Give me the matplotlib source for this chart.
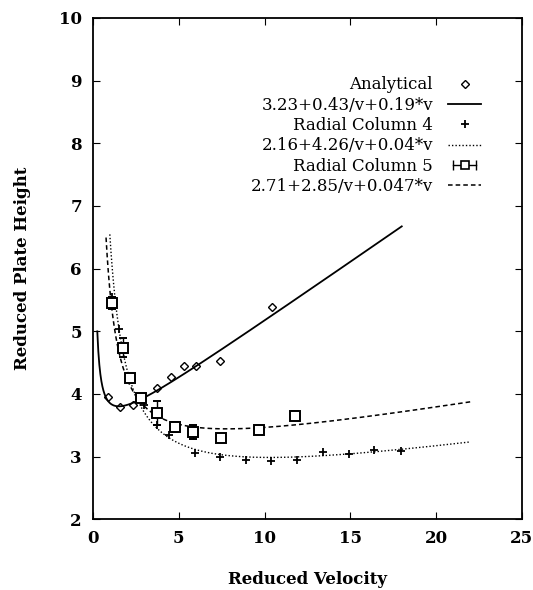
import numpy as np
import matplotlib
matplotlib.use("Agg")
import matplotlib.pyplot as plt
from matplotlib.lines import Line2D
from matplotlib.legend_handler import HandlerLine2D, HandlerTuple

# Analytical points (diamonds)
ana_v = [0.85, 1.55, 2.31, 2.77, 3.76, 4.55, 5.31, 6.0, 7.42, 10.42]
ana_h = [3.95, 3.79, 3.83, 3.93, 4.10, 4.27, 4.44, 4.44, 4.52, 5.39]

# Radial Column 4 (plus)
rc4_v = [1.1, 1.5, 1.73, 2.25, 3.0, 3.74, 4.42, 5.97, 7.42, 8.93, 10.39, 11.9, 13.4, 14.9, 16.4, 17.95]
rc4_h = [5.55, 5.04, 4.73, 4.22, 3.83, 3.51, 3.35, 3.06, 3.0, 2.94, 2.93, 2.94, 3.08, 3.04, 3.1, 3.09]

# Radial Column 5 (squares with error bars)
rc5_v = [1.12, 1.73, 2.17, 2.77, 3.74, 4.77, 5.85, 7.48, 9.67, 11.8]
rc5_h = [5.45, 4.74, 4.25, 3.93, 3.70, 3.47, 3.39, 3.30, 3.43, 3.65]
rc5_err = [0.1, 0.15, 0.05, 0.05, 0.19, 0.08, 0.11, 0.04, 0.04, 0.07]

# fit coefficients a + b/v + c*v
fit_ana = (3.23, 0.43, 0.19)
fit_rc4 = (2.16, 4.26, 0.04)
fit_rc5 = (2.71, 2.85, 0.047)

labels = ['Analytical', '3.23+0.43/v+0.19*v', 'Radial Column 4',
          '2.16+4.26/v+0.04*v', 'Radial Column 5', '2.71+2.85/v+0.047*v']

plt.rcParams['font.family'] = ['DejaVu Serif']

fig = plt.figure(figsize=(5.33, 5.90), dpi=100)
ax = fig.add_axes([0.1745, 0.120, 0.8045, 0.8495])

def fit(c, v):
    return c[0] + c[1] / v + c[2] * v

h1, = ax.plot(ana_v, ana_h, linestyle='none', marker='D', ms=4.5, mfc='white',
              mec='black', mew=1.0)
v1 = np.linspace(0.25, 18, 300)
h2, = ax.plot(v1, fit(fit_ana, v1), 'k-', lw=1.3)

h3, = ax.plot(rc4_v, rc4_h, linestyle='none', marker='+', ms=6, mec='black',
              mew=1.3)
v2 = np.linspace(0.98, 22, 300)
h4, = ax.plot(v2, fit(fit_rc4, v2), color='black', ls=(0, (1, 1.5)), lw=1.0)

ax.errorbar(rc5_v, rc5_h, yerr=rc5_err, fmt='s', ms=6.5, mfc='white',
            mec='black', mew=1.4, ecolor='black', elinewidth=1.0, capsize=3)
v3 = np.linspace(0.76, 22, 300)
h6, = ax.plot(v3, fit(fit_rc5, v3), color='black', ls=(0, (3, 2)), lw=1.1)

# legend sample for the error bar series: |--[]--|
bar = Line2D([], [], color='black', lw=1.0, marker='|', ms=7, mew=1.0)
box = Line2D([], [], ls='none', marker='s', ms=6, mfc='white', mec='black', mew=1.2)
h5 = (bar, box)

ax.set_xlim(0, 25)
ax.set_ylim(2, 10)
ax.set_xticks([0, 5, 10, 15, 20, 25])
ax.set_yticks(range(2, 11))
ax.tick_params(direction='in', length=5, top=True, right=True, labelsize=12, pad=8)
for lab in ax.get_xticklabels() + ax.get_yticklabels():
    lab.set_fontweight('bold')
for s in ax.spines.values():
    s.set_linewidth(1.3)

ax.set_xlabel('Reduced Velocity', fontsize=12, fontweight='bold', labelpad=17)
ax.set_ylabel('Reduced Plate Height', fontsize=12, fontweight='bold', labelpad=20)

leg = ax.legend([h1, h2, h3, h4, h5, h6], labels,
                handler_map={bar: HandlerLine2D(numpoints=2), tuple: HandlerTuple(ndivide=1)},
                loc='upper right', bbox_to_anchor=(0.925, 0.9), frameon=False,
                markerfirst=False, fontsize=12, handlelength=2.0,
                labelspacing=0.2, handletextpad=0.9, borderpad=0.0)
for t in leg.get_texts():
    t.set_ha('right')
leg._legend_box.align = 'right'

fig.savefig('out.png', dpi=100)
